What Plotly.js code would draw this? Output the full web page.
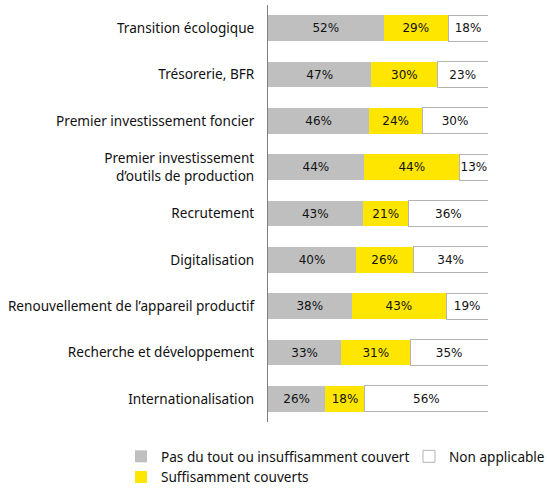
<!DOCTYPE html>
<html>
<head>
<meta charset="utf-8">
<script src="https://cdn.plot.ly/plotly-3.0.1.min.js"></script>
<style>html,body{margin:0;padding:0;background:#fff}</style>
</head>
<body>
<div id="chart" style="width:547px;height:490px"></div>
<script>
const categories = [
  "Transition écologique",
  "Trésorerie, BFR",
  "Premier investissement foncier",
  "Premier investissement<br>d’outils de production",
  "Recrutement",
  "Digitalisation",
  "Renouvellement de l’appareil productif",
  "Recherche et développement",
  "Internationalisation"
];
const insuffisant = [52, 47, 46, 44, 43, 40, 38, 33, 26];
const suffisant   = [29, 30, 24, 44, 21, 26, 43, 31, 18];
const nonApplicable = [18, 23, 30, 13, 36, 34, 19, 35, 56];

const seriesNames = ["Pas du tout ou insuffisamment couvert", "Suffisamment couverts", "Non applicable"];
const seriesColors = ["#bfbfbf", "#ffe600", "#ffffff"];
const seriesLegends = ["legend", "legend", "legend2"];
const seriesLineWidths = [0, 0, 1];
const seriesData = [insuffisant, suffisant, nonApplicable];

const labelFont = {family: "Noto Sans", size: 13.6, color: "#111111"};

const traces = seriesData.map((vals, i) => ({
  type: "bar",
  orientation: "h",
  name: seriesNames[i],
  y: categories,
  x: vals,
  text: vals.map(v => v + "%"),
  textposition: "inside",
  insidetextanchor: "middle",
  textangle: 0,
  textfont: {family: "DejaVu Sans", size: 12, color: "#111111"},
  marker: {color: seriesColors[i], line: {color: "#b4b4b4", width: seriesLineWidths[i]}},
  legend: seriesLegends[i],
  hoverinfo: "skip"
}));

const legendCommon = {orientation: "v", xref: "container", yref: "container",
  xanchor: "left", yanchor: "top", traceorder: "normal", font: labelFont,
  itemwidth: 30, tracegroupgap: 0, bgcolor: "rgba(0,0,0,0)"};

const layout = {
  width: 547, height: 490,
  barmode: "stack",
  barnorm: "percent",
  bargap: 0.44,
  margin: {l: 268, r: 59, t: 5, b: 68, pad: 0, autoexpand: false},
  paper_bgcolor: "#fff", plot_bgcolor: "#fff",
  font: labelFont,
  uniformtext: {minsize: 12, mode: "show"},
  xaxis: {range: [0, 100], showgrid: false, zeroline: false, showticklabels: false, showline: false, fixedrange: true},
  yaxis: {autorange: "reversed", showgrid: false, zeroline: false, showline: true, linecolor: "#808080", linewidth: 1,
          ticks: "", ticklabelstandoff: 10, tickfont: labelFont},
  showlegend: true,
  legend: Object.assign({}, legendCommon, {x: 121/547, y: 1 - 441/490}),
  legend2: Object.assign({}, legendCommon, {x: 409/547, y: 1 - 441/490})
};

Plotly.newPlot("chart", traces, layout, {displayModeBar: false, staticPlot: true});
</script>
</body>
</html>
